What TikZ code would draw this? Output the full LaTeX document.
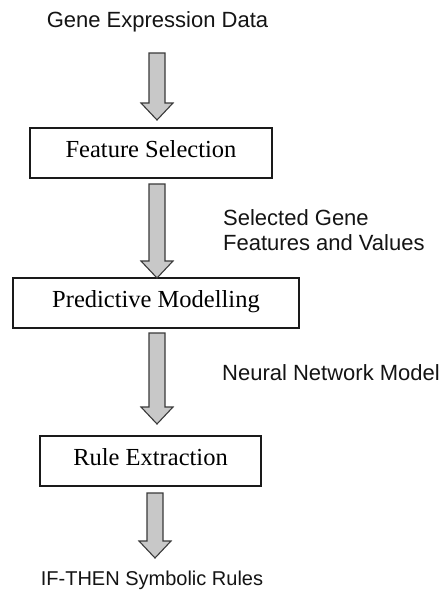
\documentclass[tikz,border=0pt]{standalone}
\usepackage{fontspec}
\setmainfont{Liberation Serif}
\newfontfamily\labelfont{Liberation Sans}
\usetikzlibrary{calc}

\definecolor{arrowfill}{HTML}{C8C8C8}
\definecolor{arrowedge}{HTML}{3A3A3A}
\definecolor{boxedge}{HTML}{1A1A1A}
\definecolor{labelink}{HTML}{141414}

\tikzset{
  stagebox/.style={draw=boxedge, line width=1.4pt, fill=white, inner sep=0pt,
    font=\fontsize{24.5}{28}\selectfont, text height=0.8em, text depth=0pt},
  flowlabel/.style={inner sep=0pt, text=labelink, font=\labelfont\fontsize{22}{24}\selectfont},
  blockarrow/.style={draw=arrowedge, fill=arrowfill, line width=1.1pt, line join=miter,
    to path={let \p1=(\tikztostart), \p2=(\tikztotarget) in
      (\x1-8pt,\y1) -- (\x1+8pt,\y1) -- (\x1+8pt,\y2+17pt) -- (\x1+16pt,\y2+17pt)
      -- (\x2,\y2) -- (\x1-16pt,\y2+17pt) -- (\x1-8pt,\y2+17pt) -- cycle}}
}

\begin{document}
\begin{tikzpicture}[x=1pt, y=1pt]
  \useasboundingbox[fill=white] (0,0) rectangle (445,-590);

  % processing stages
  \node[stagebox, minimum width=242pt, minimum height=50pt] (fs) at (151,-153) {Feature Selection};
  \node[stagebox, minimum width=286pt, minimum height=50pt] (pm) at (156,-303) {Predictive Modelling};
  \node[stagebox, minimum width=221pt, minimum height=50pt] (re) at (150.5,-461) {Rule Extraction};

  % data passed between the stages
  \node[flowlabel, anchor=base] (gd) at (157.5,-27) {Gene Expression Data};
  \node[flowlabel, anchor=base west] (sg1) at (223,-225) {Selected Gene};
  \node[flowlabel, anchor=base west] (sg2) at (223,-250) {Features and Values};
  \node[flowlabel, anchor=base west] (nn) at (222,-380) {Neural Network Model};
  \node[flowlabel, anchor=base, font=\labelfont\fontsize{20}{24}\selectfont] (ir) at (152,-585) {IF-THEN Symbolic Rules};

  % block arrow ends
  \coordinate (a1s) at (157,-53);  \coordinate (a1e) at (157,-120);
  \coordinate (a2s) at (157,-184); \coordinate (a2e) at (157,-278);
  \coordinate (a3s) at (157,-333); \coordinate (a3e) at (157,-424);
  \coordinate (a4s) at (155,-493); \coordinate (a4e) at (155,-558);

  \path[blockarrow] (a1s) to (a1e);
  \path[blockarrow] (a2s) to (a2e);
  \path[blockarrow] (a3s) to (a3e);
  \path[blockarrow] (a4s) to (a4e);
\end{tikzpicture}
\end{document}
